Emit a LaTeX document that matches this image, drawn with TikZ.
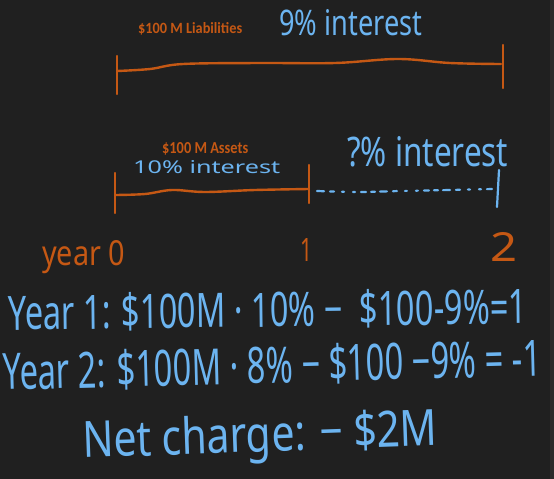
\documentclass[tikz,border=0pt]{standalone}
\usepackage{fontspec}
\setmainfont{Noto Sans}
\newfontfamily\calib{Carlito}
\usepackage{graphicx}
\definecolor{bg}{RGB}{32,32,32}
\definecolor{strip}{RGB}{44,44,44}
\definecolor{ink}{RGB}{108,180,240}
\definecolor{rust}{RGB}{197,88,20}
\begin{document}
\begin{tikzpicture}[x=1pt,y=-1pt,
  hand/.style={inner sep=0pt, anchor=base west, text=ink},
  handr/.style={inner sep=0pt, anchor=base west, text=rust},
  lab/.style={inner sep=0pt, anchor=base west, text=rust, font=\calib\bfseries},
  stroke/.style={draw=rust, line width=2.4pt, line cap=round, line join=round},
  bstroke/.style={draw=ink, line width=2.2pt, line cap=round, line join=round}]
\fill[bg] (0,0) rectangle (554,479);
\fill[strip] (550,0) rectangle (554,479);
\useasboundingbox (0,0) rectangle (554,479);

% liabilities
\node[lab] (liab) at (138,33) {\resizebox{104pt}{11pt}{\$100 M Liabilities}};
\node[hand] (int9) at (279,35) {\resizebox{143pt}{26pt}{9\% interest}};
\draw[stroke] plot[smooth, tension=0.6] coordinates {(117,71) (150,69) (183,64) (260,63) (335,63) (398,59) (450,63) (501,64)};
\draw[stroke] (117,56) -- (117,94);
\draw[stroke] (503,45) -- (503,88);

% assets
\node[lab] (assets) at (162,153) {\resizebox{86pt}{11pt}{\$100 M Assets}};
\node[hand] (int10) at (133,173) {\resizebox{147pt}{13pt}{10\% interest}};
\draw[stroke] plot[smooth, tension=0.6] coordinates {(115,195) (145,194) (172,190) (205,192) (255,190) (309,189)};
\draw[stroke] (115,173) -- (115,213);
\draw[stroke] (309,165) -- (309,203);

% unknown
\node[hand] (intq) at (347,166) {\resizebox{161pt}{30pt}{?\% interest}};
\draw[bstroke, dash pattern=on 7pt off 6pt on 4pt off 8pt on 2pt off 9pt on 2pt off 6pt on 5pt off 5pt on 4pt off 5pt]
  plot[smooth, tension=0.6] coordinates {(317,191) (360,192) (400,191) (450,190) (493,189)};
\draw[bstroke] (499,170) -- (497,207);

% year labels
\node[handr] (y0) at (42,265) {\resizebox{83pt}{25pt}{year 0}};
\node[handr] (y1) at (300,261) {\resizebox{12pt}{23pt}{1}};
\node[handr] (y2) at (490,261) {\resizebox{27pt}{29pt}{2}};

% calculations
\node[hand, rotate=0.7] (line1) at (8,330) {\resizebox{519pt}{36pt}{Year 1: \$100M · 10\% − \ \$100-9\%=1}};
\node[hand, rotate=1.5] (line2) at (3,390) {\resizebox{539pt}{38pt}{Year 2: \$100M · 8\% − \$100 −9\% = -1}};
\node[hand, rotate=2] (net) at (83,458) {\resizebox{355pt}{38pt}{Net charge: − \$2M}};
\end{tikzpicture}
\end{document}
